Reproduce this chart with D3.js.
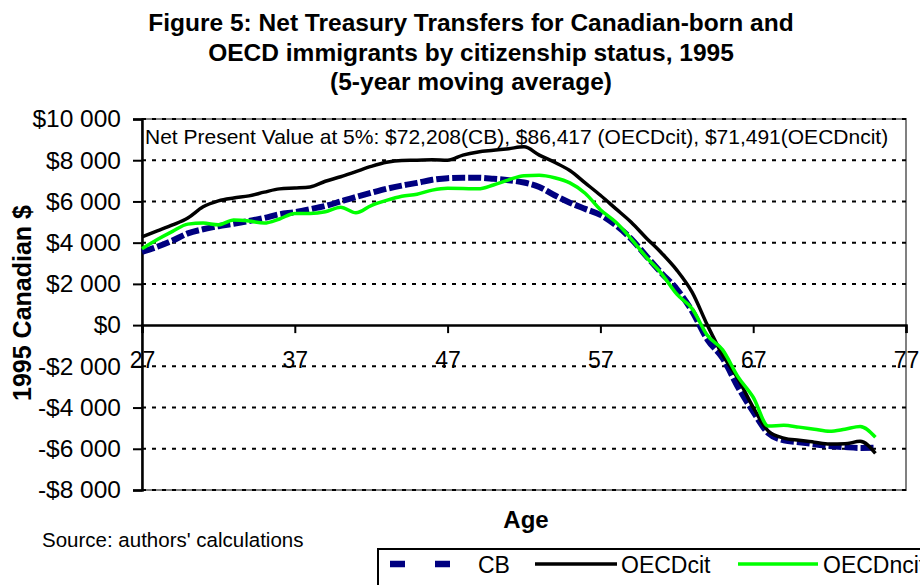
<!DOCTYPE html>
<html><head><meta charset="utf-8">
<script src="https://cdn.jsdelivr.net/npm/d3@7/dist/d3.min.js"></script>
<style>body{margin:0;background:#fff}svg{display:block;font-family:"Liberation Sans",Arial,sans-serif}</style>
</head><body><svg id="c" width="920" height="585"></svg>
<script>
const ages = [27,28,29,30,31,32,33,34,35,36,37,38,39,40,41,42,43,44,45,46,47,48,49,50,51,52,53,54,55,56,57,58,59,60,61,62,63,64,65,66,67,68,69,70,71,72,73,74,75];
const cb = [3550,3800,4100,4450,4650,4800,4920,5050,5200,5380,5480,5620,5780,6000,6220,6420,6610,6770,6900,7050,7130,7150,7150,7100,7030,6920,6700,6300,5940,5640,5350,4850,4200,3350,2520,1750,680,-700,-1600,-3000,-4200,-5250,-5590,-5680,-5780,-5860,-5920,-5960,-5950];
const oecdCit = [4280,4570,4860,5200,5740,6030,6170,6270,6450,6610,6650,6700,6980,7200,7450,7700,7900,7990,8000,8020,8000,8250,8400,8480,8560,8650,8250,7900,7500,6900,6300,5650,5000,4230,3500,2670,1600,0,-1450,-2600,-3990,-5150,-5480,-5590,-5680,-5770,-5760,-5640,-6220];
const oecdNcit = [3700,4150,4550,4900,4950,4870,5100,5050,4950,5150,5420,5420,5500,5720,5450,5800,6050,6250,6350,6550,6640,6630,6610,6800,7050,7250,7270,7150,6900,6400,5600,5000,4200,3300,2500,1500,800,-500,-1200,-2500,-3500,-4900,-4860,-4950,-5050,-5150,-5050,-4920,-5440];
const seriesNames = ["CB","OECDcit","OECDncit"];
const xTicks = [27,37,47,57,67,77];
const yTicks = [-8000,-6000,-4000,-2000,0,2000,4000,6000,8000,10000];
const titleLines = ["Figure 5: Net Treasury Transfers for Canadian-born and","OECD immigrants by citizenship status, 1995","(5-year moving average)"];
const npvText = "Net Present Value at 5%: $72,208(CB), $86,417 (OECDcit), $71,491(OECDncit)";

const svg = d3.select("#c");
const L=142, R=906, T=119, B=490;
const x = d3.scaleLinear().domain([27,77]).range([L,R]);
const y = d3.scaleLinear().domain([-8000,10000]).range([B,T]);
const fmt = v => (v<0?"-":"")+"$"+d3.format(",")(Math.abs(v)).replace(/,/g," ");

// title
svg.append("g").selectAll("text").data(titleLines).join("text")
  .attr("x",471).attr("y",(d,i)=>31+i*29.5).attr("text-anchor","middle")
  .attr("font-weight","bold").attr("font-size",24.5).text(d=>d);

// plot border
svg.append("rect").attr("x",L).attr("y",T).attr("width",R-L).attr("height",B-T)
  .attr("fill","#fff").attr("stroke","#808080").attr("stroke-width",2);

// gridlines
svg.append("g").selectAll("line").data(yTicks.filter(v=>v!==0)).join("line")
  .attr("x1",L).attr("x2",R).attr("y1",d=>y(d)).attr("y2",d=>y(d))
  .attr("stroke","#000").attr("stroke-width",2).attr("stroke-dasharray","4,6");

// y axis
const ya = svg.append("g").attr("transform",`translate(${L},0)`)
  .call(d3.axisLeft(y).tickValues(yTicks).tickFormat(fmt).tickSize(9).tickPadding(12));
ya.select(".domain").attr("stroke","#000").attr("stroke-width",2.5);
ya.selectAll(".tick line").attr("stroke","#000").attr("stroke-width",2);
ya.selectAll(".tick text").attr("font-size",24.5).attr("font-family","Liberation Sans, Arial, sans-serif").attr("fill","#000");

// x axis at zero
const xa = svg.append("g").attr("transform",`translate(0,${y(0)})`)
  .call(d3.axisBottom(x).tickValues(xTicks).tickFormat(d3.format("d")).tickSize(8).tickPadding(19));
xa.select(".domain").attr("stroke","#000").attr("stroke-width",2.5);
xa.selectAll(".tick line").attr("stroke","#000").attr("stroke-width",2);
xa.selectAll(".tick text").attr("font-size",23).attr("font-family","Liberation Sans, Arial, sans-serif").attr("fill","#000");

// npv text
svg.append("text").attr("x",145).attr("y",144).attr("font-size",21).text(npvText);

// lines
const line = vals => d3.line().x((d,i)=>x(ages[i])).y(d=>y(d)).curve(d3.curveMonotoneX)(vals);
svg.append("path").attr("d",line(cb)).attr("fill","none").attr("stroke","#000080").attr("stroke-width",6).attr("stroke-dasharray","13,3");
svg.append("path").attr("d",line(oecdCit)).attr("fill","none").attr("stroke","#000").attr("stroke-width",3.5);
svg.append("path").attr("d",line(oecdNcit)).attr("fill","none").attr("stroke","#00ff00").attr("stroke-width",3.5);

// axis titles
svg.append("text").attr("transform","translate(31,303) rotate(-90)").attr("text-anchor","middle")
  .attr("font-weight","bold").attr("font-size",25).text("1995 Canadian $");
svg.append("text").attr("x",526).attr("y",528).attr("text-anchor","middle")
  .attr("font-weight","bold").attr("font-size",24).text("Age");
svg.append("text").attr("x",42).attr("y",547).attr("font-size",20.5).text("Source: authors' calculations");

// legend
const lg = svg.append("g");
lg.append("rect").attr("x",378).attr("y",549).attr("width",600).attr("height",60)
  .attr("fill","#fff").attr("stroke","#000").attr("stroke-width",2);
const ly = 564;
lg.append("line").attr("x1",390).attr("x2",450).attr("y1",ly).attr("y2",ly)
  .attr("stroke","#000080").attr("stroke-width",6.5).attr("stroke-dasharray","15,30");
lg.append("text").attr("x",478).attr("y",ly+9).attr("font-size",23).text(seriesNames[0]);
lg.append("line").attr("x1",535).attr("x2",617).attr("y1",ly).attr("y2",ly).attr("stroke","#000").attr("stroke-width",3.5);
lg.append("text").attr("x",621).attr("y",ly+9).attr("font-size",23).text(seriesNames[1]);
lg.append("line").attr("x1",738).attr("x2",818).attr("y1",ly).attr("y2",ly).attr("stroke","#00ff00").attr("stroke-width",3.5);
lg.append("text").attr("x",823).attr("y",ly+9).attr("font-size",23).text(seriesNames[2]);
</script></body></html>
